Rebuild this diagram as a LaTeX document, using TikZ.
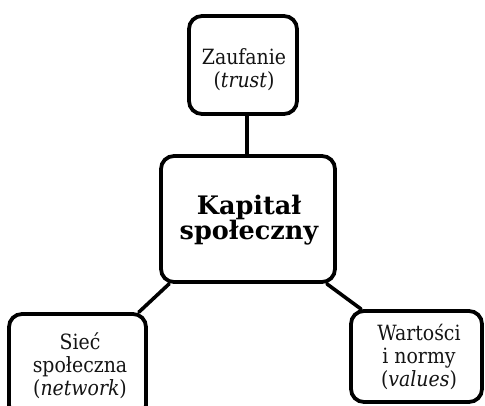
\documentclass[tikz,border=0pt]{standalone}
\usepackage{fontspec}
\setmainfont{DejaVu Serif}
\newfontfamily\condserif{DejaVu Serif Condensed}
\begin{document}
\begin{tikzpicture}[x=1pt,y=-1pt,
  box/.style={draw=black, line width=3.8pt, rounded corners=13pt, inner sep=0pt},
  txt/.style={align=center, inner sep=0pt, text=black!92,
    font=\condserif\fontsize{21}{23}\selectfont},
  maintxt/.style={align=center, inner sep=0pt, text=black,
    font=\fontsize{25.5}{24.5}\selectfont\bfseries},
  link/.style={line width=3.6pt, line cap=round}]
\useasboundingbox (0,0) rectangle (485,406);
\fill[white] (0,0) rectangle (485,406);
\node[box, minimum width=108pt, minimum height=98pt] (trust) at (243,65) {};
\node[txt] (trusttxt) at (244,70) {Zaufanie\\(\textit{trust})};
\node[box, minimum width=174pt, minimum height=126pt] (main) at (248,219) {};
\node[maintxt] (maintext) at (249,220) {Kapitał\\społeczny};
\node[box, minimum width=137pt, minimum height=104pt] (net) at (77.5,366) {};
\node[txt] (nettxt) at (80,366) {Sieć\\społeczna\\(\textit{network})};
\node[box, minimum width=131pt, minimum height=91pt] (val) at (416.5,356.5) {};
\node[txt] (valtxt) at (419,357) {Wartości\\i normy\\(\textit{values})};
\draw[link] ([xshift=4pt]trust.south) -- ([xshift=4pt]trust.south |- main.north);
\draw[link] ([xshift=-9pt]net.north east) -- ([xshift=10pt]main.south west);
\draw[link] ([xshift=-10pt]main.south east) -- ([xshift=12pt]val.north west);
\end{tikzpicture}
\end{document}
